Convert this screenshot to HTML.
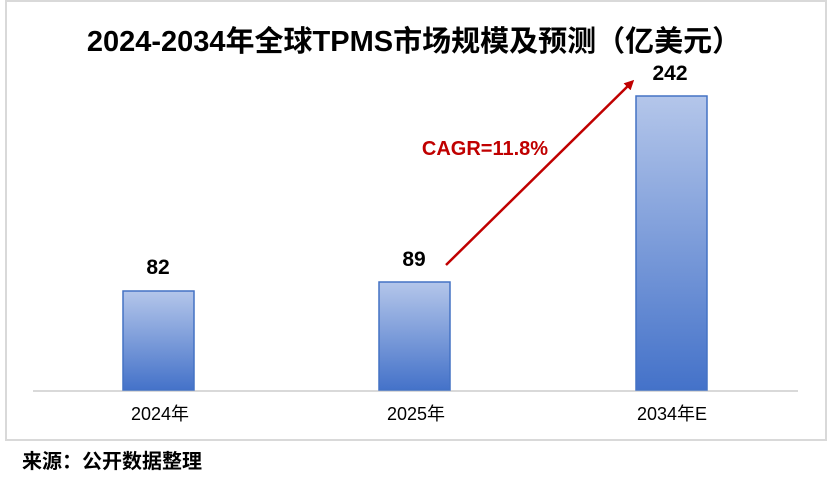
<!DOCTYPE html>
<html><head><meta charset="utf-8"><style>
body{margin:0;background:#fff;width:828px;height:474px;overflow:hidden}
</style></head><body>
<svg width="828" height="474" xmlns="http://www.w3.org/2000/svg" style="font-family:'Liberation Sans','Noto Sans CJK SC',sans-serif">
<defs>
<linearGradient id="g" x1="0" y1="0" x2="0" y2="1">
<stop offset="0" stop-color="#b4c6ea"/><stop offset="1" stop-color="#4472c9"/>
</linearGradient>
<marker id="ah" markerWidth="10" markerHeight="10" refX="7" refY="5" orient="auto" markerUnits="userSpaceOnUse">
<path d="M0,0 L10,5 L0,10 Z" fill="#c00000"/>
</marker>
</defs>
<rect x="6" y="1" width="820" height="439" fill="#fff" stroke="#d9d9d9" stroke-width="2"/>
<text x="414" y="51" text-anchor="middle" font-size="29" font-weight="bold" fill="#000">2024-2034年全球TPMS市场规模及预测（亿美元）</text>
<line x1="33" y1="391" x2="798" y2="391" stroke="#d9d9d9" stroke-width="2"/>
<rect x="123" y="291" width="71" height="99" fill="url(#g)" stroke="#4472c4" stroke-width="1.5"/>
<rect x="379" y="282" width="71" height="108" fill="url(#g)" stroke="#4472c4" stroke-width="1.5"/>
<rect x="636" y="96" width="71" height="294" fill="url(#g)" stroke="#4472c4" stroke-width="1.5"/>
<g font-size="21" font-weight="bold" text-anchor="middle" fill="#000">
<text x="158" y="274">82</text><text x="414" y="266">89</text><text x="670" y="80">242</text>
</g>
<g font-size="18" text-anchor="middle" fill="#000">
<text x="160" y="420">2024年</text><text x="416" y="420">2025年</text><text x="672" y="420">2034年E</text>
</g>
<line x1="446" y1="265" x2="632" y2="82" stroke="#c00000" stroke-width="2.5" marker-end="url(#ah)"/>
<text x="485" y="155" text-anchor="middle" font-size="20" font-weight="bold" fill="#c00000">CAGR=11.8%</text>
<text x="22" y="468" font-size="20" font-weight="bold" fill="#000">来源：公开数据整理</text>
</svg>
</body></html>
